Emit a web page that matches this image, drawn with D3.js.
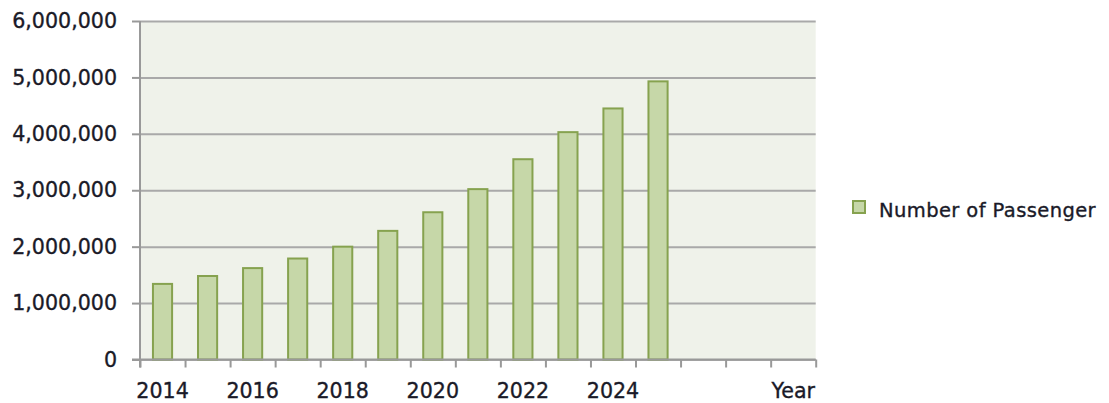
<!DOCTYPE html>
<html>
<head>
<meta charset="utf-8">
<script src="https://cdn.jsdelivr.net/npm/d3@7"></script>
<style>
  html, body { margin: 0; padding: 0; background: #ffffff; }
  svg { display: block; }
  text { font-family: "DejaVu Sans", Verdana, sans-serif; fill: #1a1a28; stroke: #1a1a28; stroke-width: 0.35px; }
</style>
</head>
<body>
<svg id="chart" width="1109" height="403"></svg>
<script>
// Yearly passenger counts
const years = ["2014", "2015", "2016", "2017", "2018", "2019", "2020", "2021", "2022", "2023", "2024", "2025"];
const passengers = [1340000, 1480000, 1620000, 1790000, 2000000, 2280000, 2610000, 3020000, 3550000, 4030000, 4450000, 4930000];

// Category slots along the x axis (three trailing empty slots, last one carries the axis title)
const slotLabels = ["2014", "", "2016", "", "2018", "", "2020", "", "2022", "", "2024", "", "", "", "Year"];
const yTicks = [0, 1000000, 2000000, 3000000, 4000000, 5000000, 6000000];
const seriesName = "Number of Passenger";

const margin = { left: 140, top: 21 };
const W = 675.7, H = 338.5;

const svg = d3.select("#chart");
const g = svg.append("g").attr("transform", `translate(${margin.left},${margin.top})`);

const n = slotLabels.length;
const x = d3.scaleBand().domain(d3.range(n)).range([0, W]).paddingInner(0.575).paddingOuter(0.2875);
const edge = d3.scaleLinear().domain([0, n]).range([0, W]);
const y = d3.scaleLinear().domain([0, 6000000]).range([H, 0]);

// plot background
g.append("rect").attr("x", 0).attr("y", 0).attr("width", W).attr("height", H).attr("fill", "#eff2ea");

// horizontal gridlines
const grid = g.append("g").call(d3.axisLeft(y).tickValues(yTicks).tickSize(-W).tickFormat(""));
grid.select(".domain").remove();
grid.selectAll("line").attr("stroke", "#a9a9a9").attr("stroke-width", 2);

// bars
g.selectAll("rect.bar").data(passengers).join("rect")
  .attr("class", "bar")
  .attr("x", (d, i) => x(i))
  .attr("width", x.bandwidth())
  .attr("y", d => y(d))
  .attr("height", d => H - y(d))
  .attr("fill", "#c6d7a8")
  .attr("stroke", "#86a24f")
  .attr("stroke-width", 2);

// y axis: ticks and labels
const yAxis = g.append("g").call(d3.axisLeft(y).tickValues(yTicks).tickSize(8).tickPadding(15).tickFormat(d3.format(",")));
yAxis.select(".domain").attr("stroke", "#999999").attr("stroke-width", 2).attr("d", `M0,${H + 8}V0`);
yAxis.selectAll("line").attr("stroke", "#999999").attr("stroke-width", 2);
yAxis.selectAll("text").attr("font-size", 20.6).attr("font-family", "DejaVu Sans").attr("fill", "#1a1a28");

// x axis: tick marks at slot edges
const xTicks = g.append("g").attr("transform", `translate(0,${H})`)
  .call(d3.axisBottom(edge).tickValues(d3.range(n + 1)).tickSize(8).tickFormat(""));
xTicks.select(".domain").attr("stroke", "#999999").attr("stroke-width", 2).attr("d", `M-8,0H${W}`);
xTicks.selectAll("line").attr("stroke", "#999999").attr("stroke-width", 2);

// x axis: category labels at slot centres
const xLabels = g.append("g").attr("transform", `translate(0,${H})`)
  .call(d3.axisBottom(x).tickSize(0).tickPadding(24).tickFormat(i => slotLabels[i]));
xLabels.select(".domain").remove();
xLabels.selectAll("text").attr("font-size", 20.6).attr("font-family", "DejaVu Sans").attr("fill", "#1a1a28");

// legend
const legend = svg.append("g").attr("transform", "translate(853,201)");
legend.append("rect").attr("x", 0).attr("y", 0).attr("width", 12).attr("height", 12)
  .attr("fill", "#c6d7a8").attr("stroke", "#86a24f").attr("stroke-width", 2);
legend.append("text").attr("x", 26).attr("y", 15.7).attr("font-size", 19.5).attr("letter-spacing", 0.4).text(seriesName);
</script>
</body>
</html>
